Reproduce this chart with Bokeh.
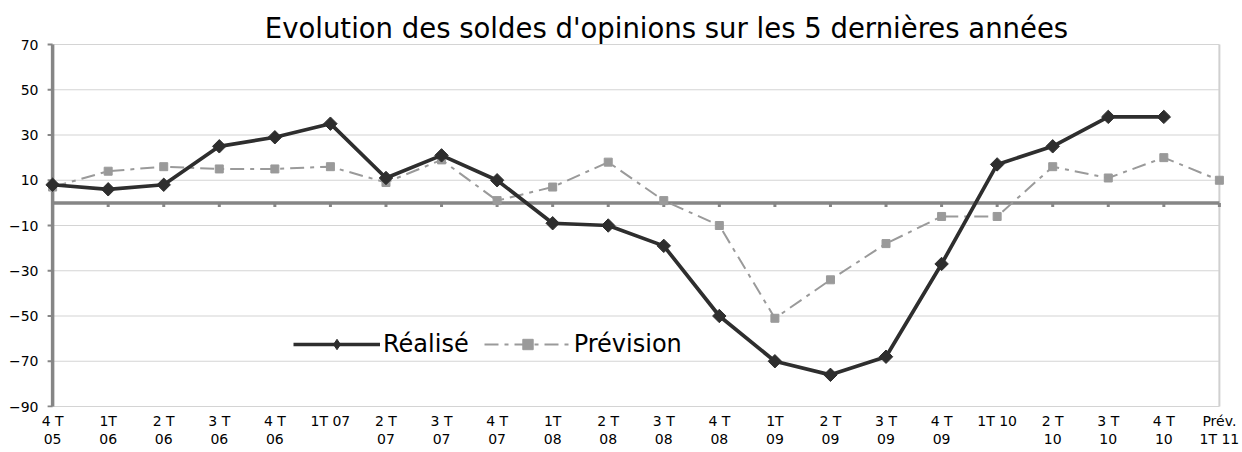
from bokeh.plotting import figure
from bokeh.models import Range1d, FixedTicker, Label, LegendItem, Legend
from bokeh.embed import file_html
from bokeh.resources import INLINE

# ---- data ----
labels = ["4 T\n05", "1T\n06", "2 T\n06", "3 T\n06", "4 T\n06", "1T 07",
          "2 T\n07", "3 T\n07", "4 T\n07", "1T\n08", "2 T\n08", "3 T\n08",
          "4 T\n08", "1T\n09", "2 T\n09", "3 T\n09", "4 T\n09", "1T 10",
          "2 T\n10", "3 T\n10", "4 T\n10", "Prév.\n1T 11"]
realise = [8, 6, 8, 25, 29, 35, 11, 21, 10, -9, -10, -19, -50, -70, -76,
           -68, -27, 17, 25, 38, 38]
prevision = [7, 14, 16, 15, 15, 16, 9, 19, 1, 7, 18, 1, -10, -51, -34,
             -18, -6, -6, 16, 11, 20, 10]
y_ticks = [-90, -70, -50, -30, -10, 10, 30, 50, 70]
title_text = "Evolution des soldes d'opinions sur les 5 dernières années"
series_names = ["Réalisé", "Prévision"]

n = len(labels)
xs = list(range(n))
ymin, ymax = y_ticks[0], y_ticks[-1]
pad_x = 0.2

p = figure(width=1242, height=452, output_backend="svg", toolbar_location=None,
           x_range=Range1d(-pad_x, n - 1 + pad_x),
           y_range=Range1d(-90.44, 89.45),
           min_border_left=41, min_border_right=12,
           min_border_top=0, min_border_bottom=45)
p.outline_line_color = None
p.xgrid.visible = False
p.ygrid.visible = False
p.background_fill_color = "white"
p.border_fill_color = "white"

# gridlines (from axis to right border)
p.segment(x0=[0] * len(y_ticks), x1=[n - 1] * len(y_ticks), y0=y_ticks, y1=y_ticks,
          line_color="#d4d4d4", line_width=1.2)
# right border
p.segment(x0=[n - 1], x1=[n - 1], y0=[ymin], y1=[ymax], line_color="#d0d0d0", line_width=2)
# zero line + tick dots
p.segment(x0=[0], x1=[n - 1], y0=[0], y1=[0], line_color="#868686", line_width=3.5)
p.segment(x0=xs[1:], x1=xs[1:], y0=[0] * (n - 1), y1=[-1.8] * (n - 1),
          line_color="#868686", line_width=3)
# y axis line and its ticks
p.segment(x0=[0], x1=[0], y0=[ymin], y1=[ymax], line_color="#868686", line_width=3.5)
p.segment(x0=[-0.09] * len(y_ticks), x1=[0] * len(y_ticks), y0=y_ticks, y1=y_ticks,
          line_color="#868686", line_width=2)

# series
r_pl = p.line(xs, prevision, line_color="#9a9a9a", line_width=2, line_dash="14 6 4 6")
r_ps = p.scatter(xs, prevision, marker="square", size=8, fill_color="#9a9a9a",
                 line_color="#9a9a9a")
r_rl = p.line(xs[:len(realise)], realise, line_color="#2e2e2e", line_width=3.7)
p.scatter(xs[:len(realise)], realise, marker="square", angle=0.785398, size=9.5,
          fill_color="#2e2e2e", line_color="#2e2e2e")
# legend-only diamond (a single undefined point, never drawn in the plot)
r_rd = p.scatter(x=[float("nan")], y=[float("nan")], marker="diamond",
                 fill_color="#2e2e2e", line_color="#2e2e2e")

# y axis (labels only)
ya = p.yaxis[0]
ya.ticker = FixedTicker(ticks=y_ticks)
ya.axis_line_color = None
ya.major_tick_line_color = None
ya.minor_tick_line_color = None
ya.major_tick_out = 0
ya.minor_tick_out = 0
ya.major_label_standoff = 3
ya.major_label_text_font = "DejaVu Sans"
ya.major_label_text_font_size = "14px"
ya.major_label_text_color = "#000000"

# x axis (labels only)
xa = p.xaxis[0]
xa.ticker = FixedTicker(ticks=xs)
xa.major_label_overrides = {i: lab for i, lab in enumerate(labels)}
xa.axis_line_color = None
xa.major_tick_line_color = None
xa.minor_tick_line_color = None
xa.major_tick_out = 0
xa.minor_tick_out = 0
xa.major_label_standoff = 5
xa.major_label_text_font = "DejaVu Sans"
xa.major_label_text_font_size = "14px"
xa.major_label_text_color = "#000000"
xa.major_label_text_line_height = 1.15

# title (inside frame area above the grid)
p.add_layout(Label(x=625, y=380, x_units="screen", y_units="screen", text=title_text,
                   text_font="DejaVu Sans", text_font_size="27.5px",
                   text_color="#000000", text_align="center",
                   text_baseline="alphabetic"))

# legend
lg = Legend(items=[LegendItem(label=series_names[0], renderers=[r_rl, r_rd]),
                   LegendItem(label=series_names[1], renderers=[r_pl, r_ps])])
lg.orientation = "horizontal"
lg.location = (252, 49)
lg.glyph_width = 87
lg.glyph_height = 26
lg.label_standoff = 3
lg.spacing = 15
lg.padding = 6
lg.margin = 0
lg.border_line_color = None
lg.background_fill_color = "white"
lg.background_fill_alpha = 1
lg.label_text_font = "DejaVu Sans"
lg.label_text_font_size = "24px"
lg.label_text_color = "#000000"
p.add_layout(lg, "center")

open("out.html", "w").write(file_html(p, INLINE))
